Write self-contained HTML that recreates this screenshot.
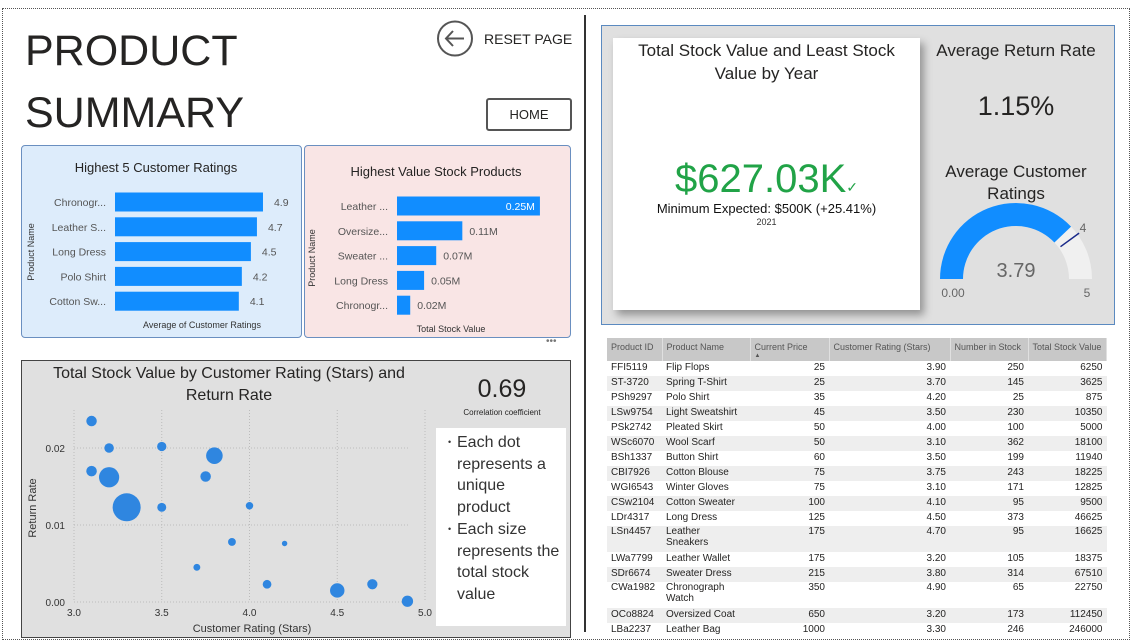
<!DOCTYPE html>
<html><head><meta charset="utf-8">
<style>
*{box-sizing:border-box;margin:0;padding:0}
body{width:1133px;height:644px;position:relative;background:#fff;font-family:"Liberation Sans",sans-serif;overflow:hidden;color:#252423}
.abs{position:absolute}
table{border-collapse:collapse;font-size:10px;width:500px}
td,th{padding:0 4px;height:15px;vertical-align:top;line-height:14px}
th{background:#c8c8c8;color:#555;font-weight:normal;text-align:left;height:23px;font-size:9px;padding-top:2px;border-right:1px solid #e0e0e0}
tr:nth-child(even) td{background:#eeeeee}
td.n{text-align:right}
tr.w td{height:26px;line-height:11px}
</style></head><body>
<div class="abs" style="left:2px;top:8px;width:1128px;height:632px;border:1px dotted #555"></div>
<div class="abs" style="left:584px;top:15px;width:2px;height:617px;background:#333"></div>

<div class="abs" style="left:25px;top:20px;font-size:43px;line-height:62px;color:#252423">PRODUCT<br>SUMMARY</div>
<div class="abs" style="left:436px;top:20px;width:140px;height:38px">
 <svg width="40" height="40" style="position:absolute;left:0;top:0"><circle cx="19" cy="18.5" r="17" fill="none" stroke="#555" stroke-width="2"/><path d="M28 18.5H10M17 11l-7 7.5 7 7.5" fill="none" stroke="#555" stroke-width="2"/></svg>
 <span style="position:absolute;left:48px;top:11px;font-size:14px;color:#252423">RESET PAGE</span>
</div>
<div class="abs" style="left:486px;top:98px;width:86px;height:33px;border:2px solid #555;border-radius:3px;font-size:13px;text-align:center;line-height:29px">HOME</div>

<div class="abs" style="left:21px;top:145px;width:281px;height:193px;background:#ddecfb;border:1px solid #6a8fc0;border-radius:4px"></div>
<div class="abs" style="left:304px;top:145px;width:267px;height:193px;background:#f9e5e5;border:1px solid #6a8fc0;border-radius:4px"></div>
<div class="abs" style="left:546px;top:336px;font-size:10px;color:#777">•••</div>
<div class="abs" style="left:21px;top:360px;width:550px;height:278px;background:#e0e0e0;border:1px solid #444"></div>
<div class="abs" style="left:436px;top:428px;width:130px;height:198px;background:#fff;font-size:16px;line-height:21.7px;padding:4px 0 0 12px;color:#333;white-space:nowrap">
<div style="position:relative;padding-left:9px"><span style="position:absolute;left:0;font-size:9px">•</span>Each dot<br>represents a<br>unique<br>product</div>
<div style="position:relative;padding-left:9px"><span style="position:absolute;left:0;font-size:9px">•</span>Each size<br>represents the<br>total stock<br>value</div>
</div>
<div class="abs" style="left:601px;top:25px;width:514px;height:300px;background:#e0e0e0;border:1px solid #5b8ac0"></div>
<div class="abs" style="left:613px;top:38px;width:307px;height:272px;background:#fff;box-shadow:4px 5px 8px rgba(0,0,0,.35);text-align:center">
 <div style="font-size:17px;line-height:23px;padding-top:1px;color:#252423">Total Stock Value and Least Stock<br>Value by Year</div>
 <div style="position:absolute;left:0;width:100%;top:119px;font-size:40px;color:#21a347">$627.03K<span style="font-size:14px">✓</span></div>
 <div style="position:absolute;left:0;width:100%;top:163px;font-size:13px;color:#111">Minimum Expected: $500K (+25.41%)</div>
 <div style="position:absolute;left:0;width:100%;top:179px;font-size:9px;color:#333">2021</div>
</div>
<div class="abs" style="left:922px;top:41px;width:188px;text-align:center;font-size:17px">Average Return Rate</div>
<div class="abs" style="left:922px;top:91px;width:188px;text-align:center;font-size:27px;color:#252423">1.15%</div>
<div class="abs" style="left:922px;top:161px;width:188px;text-align:center;font-size:17px;line-height:22px">Average Customer<br>Ratings</div>

<svg class="abs" style="left:0;top:0" width="1133" height="644" id="charts"></svg>

<div class="abs" style="left:607px;top:338px;width:500px;height:296px;overflow:hidden">
<table>
<tr><th style="width:55px">Product ID</th><th style="width:88px">Product Name</th><th style="width:79px">Current Price<div style="font-size:6px;line-height:5px">▲</div></th><th style="width:121px">Customer Rating (Stars)</th><th style="width:78px">Number in Stock</th><th>Total Stock Value</th></tr>
<tbody id="tb"></tbody>
</table>
</div>

<script>
// ---- Bar chart 1 data
const ratingCats=["Chronogr...","Leather S...","Long Dress","Polo Shirt","Cotton Sw..."];
const ratingVals=[4.9,4.7,4.5,4.2,4.1];
// ---- Bar chart 2 data
const stockCats=["Leather ...","Oversize...","Sweater ...","Long Dress","Chronogr..."];
const stockVals=[246000,112450,67510,46625,22750];
const stockLabels=["0.25M","0.11M","0.07M","0.05M","0.02M"];
// ---- Scatter data
const scRating=[3.1,3.2,3.5,3.8,3.1,3.2,3.75,3.3,3.5,4.0,3.9,4.2,3.7,4.1,4.5,4.7,4.9];
const scReturn=[0.0235,0.0200,0.0202,0.0190,0.0170,0.0162,0.0163,0.0123,0.0123,0.0125,0.0078,0.0076,0.0045,0.0023,0.0015,0.0023,0.0001];
const scValue=[18100,12825,11940,67510,18375,112450,18225,246000,10350,5000,6250,875,3625,9500,46625,16625,22750];
const xTicks=["3.0","3.5","4.0","4.5","5.0"];
const yTicks=["0.00","0.01","0.02"];
// ---- Gauge data
const gaugeValue=3.79, gaugeMax=5, gaugeTarget=4;
// ---- Table data
const rows=[
["FFI5119","Flip Flops",25,"3.90",250,6250],["ST-3720","Spring T-Shirt",25,"3.70",145,3625],["PSh9297","Polo Shirt",35,"4.20",25,875],["LSw9754","Light Sweatshirt",45,"3.50",230,10350],["PSk2742","Pleated Skirt",50,"4.00",100,5000],["WSc6070","Wool Scarf",50,"3.10",362,18100],["BSh1337","Button Shirt",60,"3.50",199,11940],["CBI7926","Cotton Blouse",75,"3.75",243,18225],["WGI6543","Winter Gloves",75,"3.10",171,12825],["CSw2104","Cotton Sweater",100,"4.10",95,9500],["LDr4317","Long Dress",125,"4.50",373,46625],["LSn4457","Leather<br>Sneakers",175,"4.70",95,16625],["LWa7799","Leather Wallet",175,"3.20",105,18375],["SDr6674","Sweater Dress",215,"3.80",314,67510],["CWa1982","Chronograph<br>Watch",350,"4.90",65,22750],["OCo8824","Oversized Coat",650,"3.20",173,112450],["LBa2237","Leather Bag",1000,"3.30",246,246000]];

const NS="http://www.w3.org/2000/svg";
const svg=document.getElementById('charts');
function mk(t,a,txt){const e=document.createElementNS(NS,t);for(const k in a)e.setAttribute(k,a[k]);if(txt!==undefined)e.textContent=txt;svg.appendChild(e);return e;}

// Bar chart 1
mk('text',{x:156,y:172,'font-size':13,'text-anchor':'middle',fill:'#252423'},'Highest 5 Customer Ratings');
mk('text',{x:34,y:252,'font-size':9,'text-anchor':'middle',fill:'#333',transform:'rotate(-90 34 252)'},'Product Name');
mk('text',{x:202,y:328,'font-size':9,'text-anchor':'middle',fill:'#333'},'Average of Customer Ratings');
const b1x=v=>115+v*30.2, b1y=i=>202+i*24.8;
ratingVals.forEach((v,i)=>{
 const r=mk('rect',{x:115,y:b1y(i)-9.5,width:b1x(v)-115,height:19,fill:'#118dff'});
 
 
 mk('text',{x:106,y:b1y(i)+4,'font-size':10.5,'text-anchor':'end',fill:'#555'},ratingCats[i]);
 mk('text',{x:b1x(v)+11,y:b1y(i)+4,'font-size':10.5,fill:'#555'},v.toFixed(1));
});
// Bar chart 2
mk('text',{x:436,y:176,'font-size':13,'text-anchor':'middle',fill:'#252423'},'Highest Value Stock Products');
mk('text',{x:315,y:258,'font-size':9,'text-anchor':'middle',fill:'#333',transform:'rotate(-90 315 258)'},'Product Name');
mk('text',{x:451,y:332,'font-size':9,'text-anchor':'middle',fill:'#333'},'Total Stock Value');
const b2x=v=>397+v*0.000581, b2y=i=>206+i*24.8;
stockVals.forEach((v,i)=>{
 const r=mk('rect',{x:397,y:b2y(i)-9.5,width:b2x(v)-397,height:19,fill:'#118dff'});
 
 
 mk('text',{x:388,y:b2y(i)+4,'font-size':10.5,'text-anchor':'end',fill:'#555'},stockCats[i]);
 if(i===0) mk('text',{x:b2x(v)-5,y:b2y(i)+4,'font-size':10.5,'text-anchor':'end',fill:'#fff'},stockLabels[i]);
 else mk('text',{x:b2x(v)+7,y:b2y(i)+4,'font-size':10.5,fill:'#555'},stockLabels[i]);
});
// Scatter
mk('text',{x:229,y:378,'font-size':16,'text-anchor':'middle',fill:'#252423'},'Total Stock Value by Customer Rating (Stars) and');
mk('text',{x:229,y:400,'font-size':16,'text-anchor':'middle',fill:'#252423'},'Return Rate');
mk('text',{x:502,y:397,'font-size':25,'text-anchor':'middle',fill:'#252423'},'0.69');
mk('text',{x:502,y:415,'font-size':8,'text-anchor':'middle',fill:'#252423'},'Correlation coefficient');
const sx=v=>74+(v-3)*175.5, sy=v=>602-v*7700;
xTicks.forEach(t=>{const x=sx(+t);
 mk('line',{x1:x,x2:x,y1:410,y2:602,stroke:'#bbb','stroke-dasharray':'1,2'});
 mk('text',{x:x,y:616,'font-size':10,'text-anchor':'middle',fill:'#333'},t);});
yTicks.forEach(t=>{const y=sy(+t);
 mk('line',{x1:74,x2:408,y1:y,y2:y,stroke:'#bbb','stroke-dasharray':'1,2'});
 mk('text',{x:65,y:y+4,'font-size':10,'text-anchor':'end',fill:'#333'},t);});
mk('text',{x:36,y:508,'font-size':11,'text-anchor':'middle',fill:'#333',transform:'rotate(-90 36 508)'},'Return Rate');
mk('text',{x:252,y:632,'font-size':11,'text-anchor':'middle',fill:'#333'},'Customer Rating (Stars)');
const rr=v=>2+Math.sqrt(v/246000)*12;
scRating.forEach((v,i)=>{
 const c=mk('circle',{cx:sx(v),cy:sy(scReturn[i]),r:rr(scValue[i]),fill:'#2f86e0'});
 
 
});
// Gauge
const gcx=1016,gcy=279,R=76,r0=53;
function arc(a0,a1,col){const p=a=>[gcx+Math.cos(a)*R,gcy-Math.sin(a)*R],q=a=>[gcx+Math.cos(a)*r0,gcy-Math.sin(a)*r0];
 const [x0,y0]=p(a0),[x1,y1]=p(a1),[x2,y2]=q(a1),[x3,y3]=q(a0);
 return mk('path',{d:`M${x0} ${y0}A${R} ${R} 0 0 1 ${x1} ${y1}L${x2} ${y2}A${r0} ${r0} 0 0 0 ${x3} ${y3}Z`,fill:col});}
const ang=v=>Math.PI*(1-v/gaugeMax);
arc(Math.PI,0,'#f0f0f0');
arc(Math.PI,ang(gaugeValue),'#118dff');
const ta=ang(gaugeTarget);
mk('line',{x1:gcx+Math.cos(ta)*(r0+2),y1:gcy-Math.sin(ta)*(r0+2),x2:gcx+Math.cos(ta)*(R+2),y2:gcy-Math.sin(ta)*(R+2),stroke:'#1a2a8a','stroke-width':1.5});
mk('text',{x:gcx,y:gcy-2,'font-size':20,'text-anchor':'middle',fill:'#666'},gaugeValue.toFixed(2));
mk('text',{x:953,y:297,'font-size':12,'text-anchor':'middle',fill:'#666'},'0.00');
mk('text',{x:1087,y:297,'font-size':12,'text-anchor':'middle',fill:'#666'},String(gaugeMax));
mk('text',{x:1083,y:232,'font-size':12,'text-anchor':'middle',fill:'#666'},String(gaugeTarget));
// Table
const tb=document.getElementById('tb');
rows.forEach(r=>{const tr=document.createElement('tr');
 
 
 if(r[1].includes('<br>'))tr.className='w';
 tr.innerHTML=`<td>${r[0]}</td><td>${r[1]}</td><td class="n">${r[2]}</td><td class="n">${r[3]}</td><td class="n">${r[4]}</td><td class="n">${r[5]}</td>`;
 tb.appendChild(tr);});
</script>
</body></html>
